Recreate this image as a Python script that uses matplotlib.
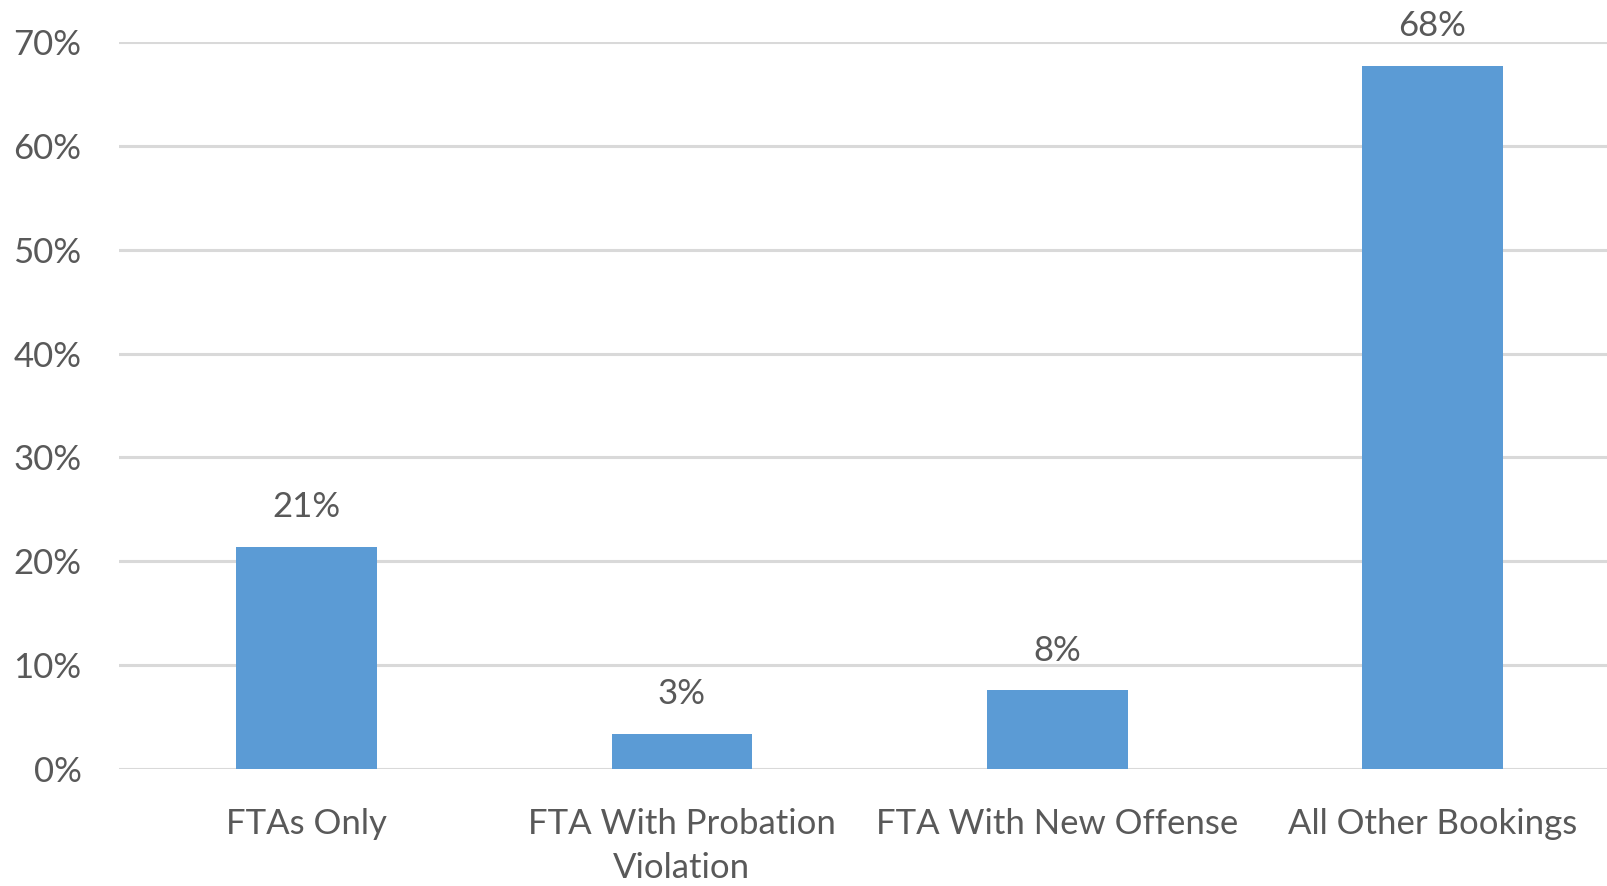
import numpy as np
import matplotlib
matplotlib.use("Agg")
import matplotlib.pyplot as plt
from matplotlib.ticker import PercentFormatter

plt.rcParams['font.family'] = ['Lato', 'DejaVu Sans']

# データ
categories = ["FTAs Only", "FTA With Probation\nViolation", "FTA With New Offense", "All Other Bookings"]
shares = [0.214, 0.034, 0.076, 0.677]

text_color = "#595959"
bar_color = "#5B9BD5"
grid_color = "#D9D9D9"

fig = plt.figure(figsize=(16.08, 8.86), dpi=100)
ax = fig.add_axes([0.074, 0.132, 0.9335, 0.8205])

x = np.arange(len(categories))
bars = ax.bar(x, shares, width=0.375, color=bar_color, zorder=3)

for b, v in zip(bars, shares):
    ax.annotate(f"{v:.0%}", (b.get_x() + b.get_width() / 2, v),
                xytext=(0, 17), textcoords="offset points",
                ha="center", va="bottom", fontsize=25, color=text_color)

ax.set_xlim(-0.5, len(categories) - 0.5)
ax.set_ylim(0, 0.70)
ax.set_yticks(np.arange(0, 0.71, 0.10))
ax.yaxis.set_major_formatter(PercentFormatter(1.0, decimals=0))
ax.set_xticks(x)
ax.set_xticklabels(categories, linespacing=1.45, fontsize=26)

ax.grid(axis="y", color=grid_color, linewidth=2.2, zorder=0)
for s in ax.spines.values():
    s.set_visible(False)
ax.tick_params(axis="both", length=0, labelsize=25, labelcolor=text_color)
ax.tick_params(axis="y", pad=27)
ax.tick_params(axis="x", pad=28)

fig.savefig("out.png", dpi=100)
